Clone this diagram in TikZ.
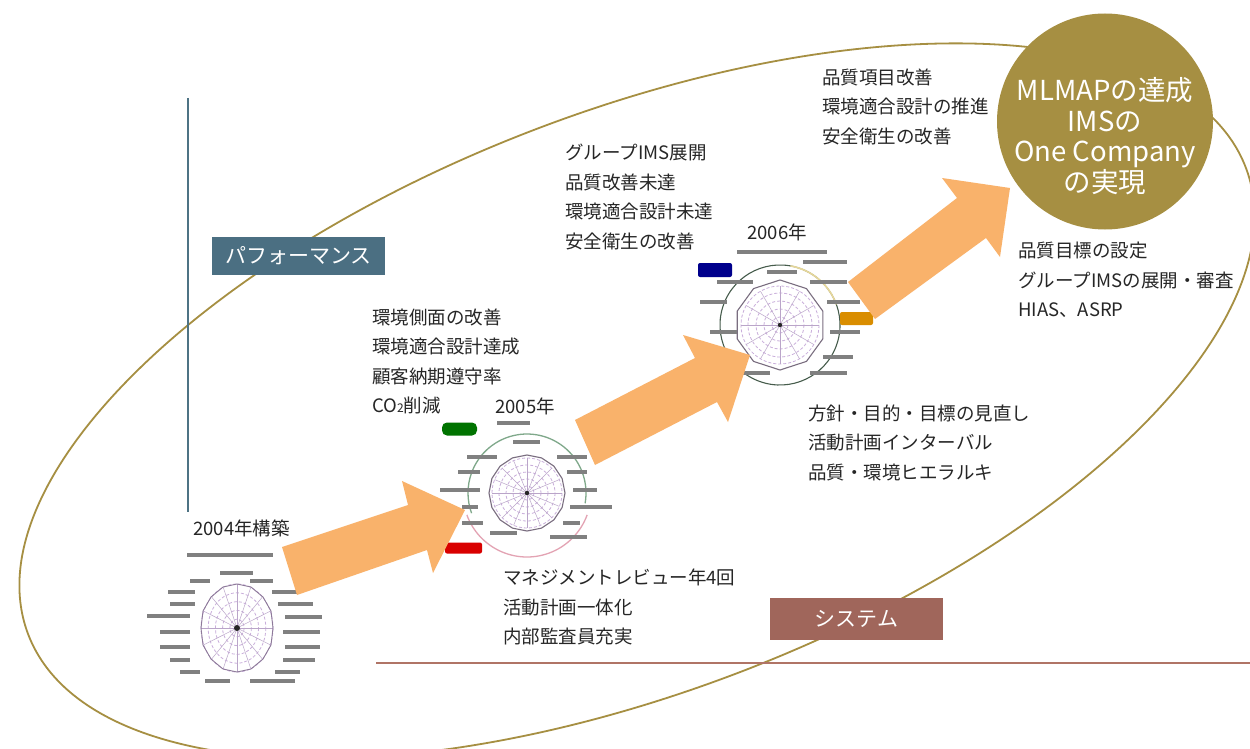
\documentclass[tikz,border=0pt]{standalone}
\usepackage{fontspec}
\setmainfont{Noto Sans CJK JP}
\newfontfamily\jpf{Noto Sans CJK JP}
\definecolor{cGold}{HTML}{A68F42}
\definecolor{cArrow}{HTML}{F9B26B}
\definecolor{cPerf}{HTML}{4B6F82}
\definecolor{cSys}{HTML}{A0665B}
\definecolor{cVline}{HTML}{4E7384}
\definecolor{cHline}{HTML}{B07466}
\definecolor{cRing}{HTML}{C9AEDB}
\definecolor{cPoly}{HTML}{7A6E80}
\definecolor{cGreenR}{HTML}{7FA88A}
\definecolor{cPinkR}{HTML}{E3A3B3}
\definecolor{cYelR}{HTML}{E6D79A}
\tikzset{
  body/.style={anchor=west, align=left, inner sep=0, font=\jpf\fontsize{18.5}{29.5}\selectfont, text=black!85},
  yearlbl/.style={anchor=west, inner sep=0, font=\jpf\fontsize{18.5}{22}\selectfont, text=black!85},
  tagbox/.style={inner sep=0, text=white, font=\jpf\fontsize{21}{24}\selectfont},
  barrow/.style={fill=cArrow, draw=none},
  lbl/.style={draw=black!50, line width=3.4},
  ring/.style={draw=cRing, line width=0.8},
  spoke/.style={draw=cRing!80!gray, line width=0.5},
}
\begin{document}
\begin{tikzpicture}[x=1pt,y=-1pt]
\useasboundingbox (0,0) rectangle (1250,749);
\fill[white] (0,0) rectangle (1250,749);

% big ellipse
\draw[cGold, line width=1.8, rotate around={21:(637,401)}] (637,401) ellipse [x radius=652, y radius=290];

% axes
\coordinate (vtop) at (188,98); \coordinate (vbot) at (188,512);
\draw[cVline, line width=2.2] (vtop) -- (vbot);
\coordinate (hl) at (376,663); \coordinate (hr) at (1250,663);
\draw[cHline, line width=2.2] (hl) -- (hr);

% ---------- radar chart 2004 ----------
\begin{scope}[shift={(237,628)}]
  \foreach \r in {0.2,0.4,0.6,0.8,1.0}
    \draw[ring, densely dashed] (0,0) ellipse [x radius={36*\r}, y radius={44*\r}];
  \foreach \a in {0,22.5,...,337.5}
    \draw[spoke] (0,0) -- ({36*cos(\a)},{44*sin(\a)});
  \draw[cRing!70!black, line width=0.9] (0,-44) -- (14,-41) -- (26,-31) -- (34,-17) -- (36,0) -- (34,17) -- (26,31) -- (14,41) -- (0,44) -- (-14,41) -- (-26,31) -- (-34,17) -- (-36,0) -- (-34,-17) -- (-26,-31) -- (-14,-41) -- cycle;
  \fill[black!85] (0,0) circle (3);
\end{scope}
\foreach \xa/\xb/\y in {187/273/555, 220/253/573, 190/210/581, 168/195/592, 170/195/604, 147/190/616, 160/190/632, 160/190/647, 170/190/660, 180/200/672, 205/230/681, 250/273/581, 272/300/592, 278/313/604, 285/322/617, 283/320/632, 285/320/647, 283/315/660, 275/300/672, 250/295/681}
  \draw[lbl] (\xa,\y) -- (\xb,\y);

% ---------- radar chart 2005 ----------
\begin{scope}[shift={(527,493)}]
  \draw[cGreenR, line width=1.3] (-100:59) arc [start angle=-100, end angle=10, radius=59];
  \draw[cGreenR, line width=1.3] (-100:59) arc [start angle=-100, end angle=-200, radius=59];
  \draw[cPinkR, line width=1.3] (-200:64) arc [start angle=-200, end angle=-340, radius=64];
  \foreach \r in {7,14,21,28,35}
    \draw[ring, densely dashed] (0,0) circle (\r);
  \foreach \a in {0,22.5,...,337.5}
    \draw[spoke] (0,0) -- (\a:35);
  \draw[cPoly, line width=1.1] (0:38) \foreach \a in {22.5,45,...,337.5} { -- (\a:38) } -- cycle;
  \fill[black!85] (0,0) circle (2.2);
\end{scope}
\foreach \xa/\xb/\y in {497/530/423, 513/540/442, 467/497/457, 458/480/472, 440/480/490, 462/478/507, 462/483/523, 490/517/533, 557/587/457, 567/587/472, 573/597/490, 570/612/507, 563/580/523, 550/587/537}
  \draw[lbl] (\xa,\y) -- (\xb,\y);
\node[fill=green!45!black, rounded corners=5, minimum width=35, minimum height=13, inner sep=0] (b05g) at (459.5,429) {};
\node[fill=red!85!black, rounded corners=2, minimum width=37, minimum height=11, inner sep=0] (b05r) at (463.5,548) {};

% ---------- radar chart 2006 ----------
\begin{scope}[shift={(780,325)}]
  \draw[black!45!cGreenR, line width=1.1] (20:60) arc [start angle=20, end angle=-340, radius=60];
  \draw[cYelR, line width=1.6] (-20:60) arc [start angle=-20, end angle=-80, radius=60];
  \foreach \r in {8,16,24,32,39}
    \draw[ring, densely dashed] (0,0) circle (\r);
  \foreach \a in {0,30,...,330}
    \draw[spoke] (0,0) -- (\a:39);
  \draw[cPoly, line width=1.1] (90:45) \foreach \a in {126,162,...,414} { -- (\a:45) } -- cycle;
  \fill[black!85] (0,0) circle (2.2);
\end{scope}
\foreach \xa/\xb/\y in {737/827/252, 803/847/262, 717/753/282, 700/727/302, 710/737/332, 743/770/373, 767/797/272, 810/847/282, 827/860/302, 830/860/332, 823/853/357, 810/847/373}
  \draw[lbl] (\xa,\y) -- (\xb,\y);
\node[fill=blue!55!black, rounded corners=2, minimum width=34, minimum height=14, inner sep=0] (b06b) at (715,270) {};
\node[fill=orange!70!yellow!85!black, rounded corners=2, minimum width=33, minimum height=13, inner sep=0] (b06y) at (856.5,318.5) {};

% ---------- block arrows ----------
\fill[barrow] (282,547) -- (408,505) -- (402,481) -- (465,510) -- (433,573) -- (427,550) -- (297,595) -- cycle;
\fill[barrow] (575,420) -- (695,358) -- (683,335) -- (750,355) -- (728,422) -- (717,402) -- (595,465) -- cycle;
\fill[barrow] (848,282) -- (957,198) -- (942,178) -- (1010,188) -- (1000,257) -- (986,238) -- (875,319) -- cycle;

% ---------- goal circle ----------
\node[circle, fill=cGold, minimum size=216, inner sep=0] (goal) at (1105,121.5) {};
\node[align=center, text=white, inner sep=0, font=\jpf\fontsize{27.5}{30.5}\selectfont] (goaltxt) at (1105,136) {MLMAPの達成\\IMSの\\One Company\\の実現};

% ---------- tags ----------
\node[tagbox, fill=cPerf, minimum width=173, minimum height=38] (perf) at (298.5,256) {パフォーマンス};
\node[tagbox, fill=cSys, minimum width=173, minimum height=42] (sys) at (856.5,619) {システム};

% ---------- texts ----------
\node[body] (t1) at (822,106.5) {品質項目改善\\環境適合設計の推進\\安全衛生の改善};
\node[body] (t2) at (565,197) {グループIMS展開\\品質改善未達\\環境適合設計未達\\安全衛生の改善};
\node[yearlbl] (y06) at (747,232) {2006年};
\node[body] (t3) at (1018,280) {品質目標の設定\\グループIMSの展開・審査\\HIAS、ASRP};
\node[body] (t4) at (372,361.5) {環境側面の改善\\環境適合設計達成\\顧客納期遵守率\\CO{\fontsize{12}{12}\selectfont 2}削減};
\node[yearlbl] (y05) at (495,406) {2005年};
\node[body] (t5) at (808,442.5) {方針・目的・目標の見直し\\活動計画インターバル\\品質・環境ヒエラルキ};
\node[yearlbl] (y04) at (193,528) {2004年構築};
\node[body] (t6) at (503,607) {マネジメントレビュー年4回\\活動計画一体化\\内部監査員充実};
\end{tikzpicture}
\end{document}
